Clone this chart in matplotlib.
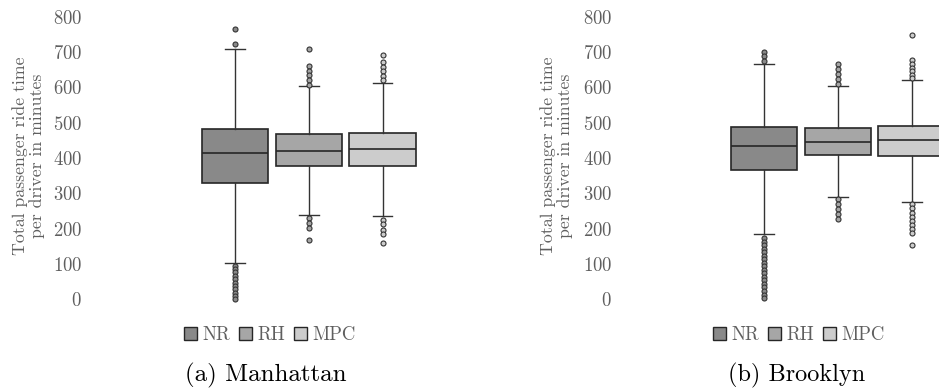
"""Boxplots of passenger ride time per driver, Manhattan vs Brooklyn."""

import matplotlib

matplotlib.use("Agg")
import matplotlib.pyplot as plt
from matplotlib.patches import Patch

plt.rcParams["font.family"] = ["cmr10", "DejaVu Serif"]
plt.rcParams["axes.formatter.use_mathtext"] = True

METHODS = ["NR", "RH", "MPC"]
COLORS = ["#898989", "#a6a6a6", "#cccccc"]
EDGE = "#262626"
GREY_TEXT = "#5f5f5f"

# Manhattan: q1, median, q3, whisker low, whisker high, outliers
man_q1 = [330, 378, 378]
man_med = [414, 421, 425]
man_q3 = [482, 467, 472]
man_wlo = [103, 239, 235]
man_whi = [708, 605, 612]
man_fliers = [
    [764, 722, 95, 86, 77, 67, 58, 48, 38, 29, 19, 10, 1],
    [708, 661, 647, 634, 620, 608, 230, 216, 202, 167],
    [692, 671, 658, 645, 632, 620, 226, 213, 198, 184, 161],
]

# Brooklyn
bk_q1 = [367, 408, 406]
bk_med = [433, 446, 450]
bk_q3 = [488, 486, 492]
bk_wlo = [185, 290, 276]
bk_whi = [667, 605, 622]
bk_fliers = [
    [701, 688, 676, 174, 164, 154, 144, 134, 124, 114, 104, 94, 84, 74,
     64, 54, 44, 34, 24, 14, 4],
    [665, 652, 638, 624, 611, 283, 269, 255, 241, 227],
    [748, 678, 667, 656, 645, 634, 626, 270, 258, 246, 234, 222, 211,
     199, 188, 153],
]

Y_TICKS = [0, 100, 200, 300, 400, 500, 600, 700, 800]
YLABEL = "Total passenger ride time\nper driver in minutes"

W, H = 939, 389


def build_stats(q1, med, q3, wlo, whi, fliers):
    stats = []
    for i, name in enumerate(METHODS):
        stats.append({
            "label": name, "q1": q1[i], "med": med[i], "q3": q3[i],
            "whislo": wlo[i], "whishi": whi[i], "fliers": fliers[i],
        })
    return stats


def draw_panel(rect, xlim, stats, label_x, legend_x, caption_x, caption, cap_size):
    ax = fig.add_axes(rect)
    bp = ax.bxp(
        stats, positions=[1, 2, 3], widths=0.9, patch_artist=True,
        boxprops=dict(edgecolor=EDGE, linewidth=1.2),
        medianprops=dict(color=EDGE, linewidth=1.2),
        whiskerprops=dict(color="#333333", linewidth=1.0),
        capprops=dict(color="#333333", linewidth=1.0),
        capwidths=0.27,
        flierprops=dict(marker="o", markersize=3.6, markeredgecolor="#333333",
                        markeredgewidth=0.8),
    )
    for box, flier, color in zip(bp["boxes"], bp["fliers"], COLORS):
        box.set_facecolor(color)
        flier.set_markerfacecolor(color)
        flier.set_clip_on(False)
    ax.set_xlim(*xlim)
    ax.set_ylim(0, 800)
    ax.set_yticks(Y_TICKS)
    ax.set_xticks([])
    ax.tick_params(axis="y", length=0, pad=5.8, labelsize=13.5, labelcolor=GREY_TEXT)
    for sp in ax.spines.values():
        sp.set_visible(False)

    fig.text(label_x / W, 1 - 156 / H, YLABEL, rotation=90, ha="center",
             va="center", ma="center", fontsize=12.8, color=GREY_TEXT,
             linespacing=1.1)

    handles = [Patch(facecolor=c, edgecolor=EDGE, linewidth=1.0) for c in COLORS]
    leg = fig.legend(handles, METHODS, loc="center", ncol=3, frameon=False,
                     bbox_to_anchor=(legend_x / W, 1 - 335 / H),
                     handlelength=0.65, handleheight=0.65, handletextpad=0.3,
                     columnspacing=0.5, fontsize=13.5, borderpad=0)
    for t in leg.get_texts():
        t.set_color(GREY_TEXT)

    fig.text(caption_x / W, 1 - 375 / H, caption, ha="left", va="center",
             fontsize=cap_size, color="black")
    return ax


fig = plt.figure(figsize=(W / 100, H / 100), dpi=100)

y0 = (H - 299.5) / H
hgt = (299.5 - 16.7) / H

# Manhattan: box centres at ~235, 308, 382 px
draw_panel([90 / W, y0, 370 / W, hgt], (-0.965, 4.05),
           build_stats(man_q1, man_med, man_q3, man_wlo, man_whi, man_fliers),
           29, 270, 185, "(a) Manhattan", 18)

# Brooklyn: box centres at ~764, 838, 912 px (last box runs off the edge)
draw_panel([620 / W, y0, 319 / W, hgt], (-0.951, 3.37),
           build_stats(bk_q1, bk_med, bk_q3, bk_wlo, bk_whi, bk_fliers),
           557, 799, 728, "(b) Brooklyn", 17.5)

fig.savefig("out.png", dpi=100)
